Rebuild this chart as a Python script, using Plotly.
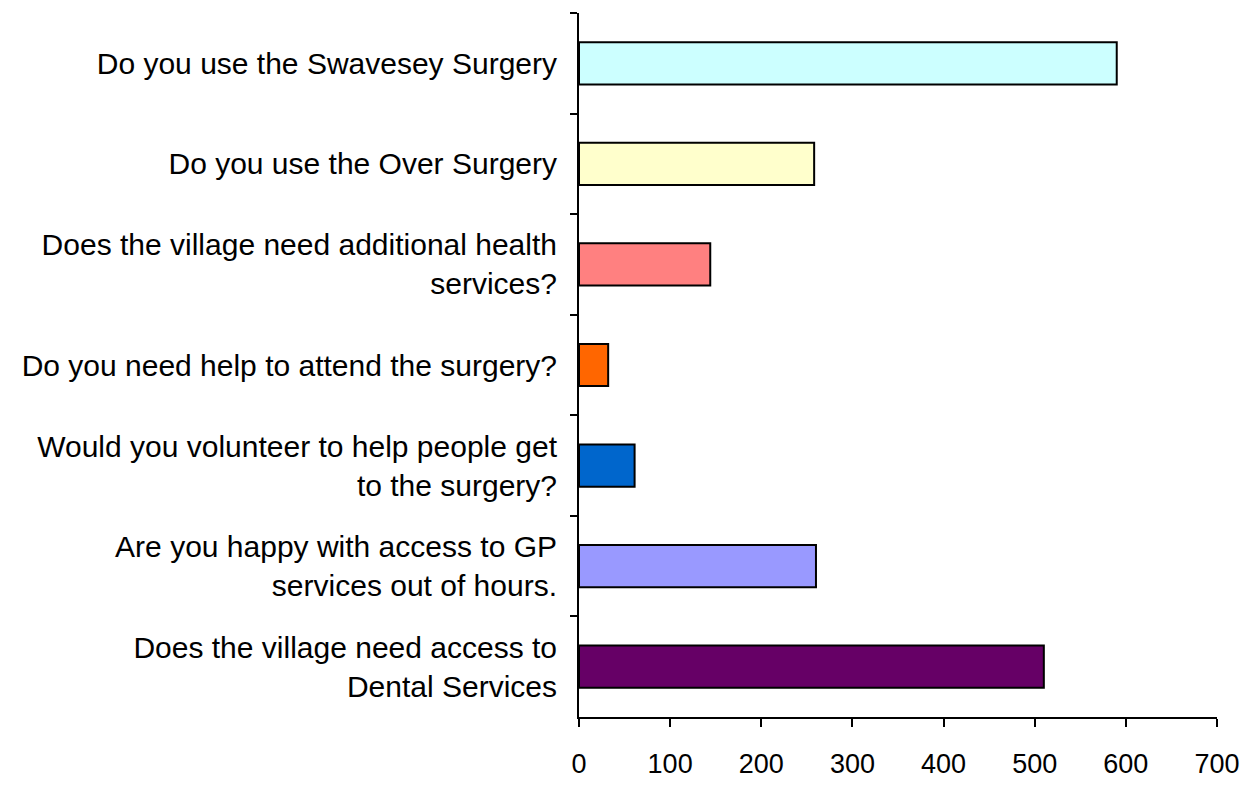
import plotly.graph_objects as go

# Survey questions, listed top to bottom as they appear on the chart
questions = [
    "Do you use the Swavesey Surgery",
    "Do you use the Over Surgery",
    "Does the village need additional health<br>services?",
    "Do you need help to attend the surgery?",
    "Would you volunteer to help people get<br>to the surgery?",
    "Are you happy with access to GP<br>services out of hours.",
    "Does the village need access to<br>Dental Services",
]
responses = [590, 258, 144, 32, 61, 260, 510]
bar_colors = ["#CCFFFF", "#FFFFCC", "#FF8080", "#FF6600", "#0066CC", "#9999FF", "#660066"]
x_ticks = [0, 100, 200, 300, 400, 500, 600, 700]

fig = go.Figure(
    go.Bar(
        x=responses,
        y=questions,
        orientation="h",
        marker=dict(color=bar_colors, line=dict(color="black", width=2)),
        width=0.42,
        hoverinfo="x+y",
    )
)

fig.update_layout(
    width=1259,
    height=785,
    margin=dict(l=579, r=42, t=13, b=68),
    paper_bgcolor="white",
    plot_bgcolor="white",
    showlegend=False,
    font=dict(family="Liberation Sans, Arial, sans-serif", color="black"),
)

fig.update_xaxes(
    range=[0, 700],
    tickvals=x_ticks,
    ticktext=[str(v) for v in x_ticks],
    showgrid=False,
    zeroline=False,
    showline=True,
    linecolor="black",
    linewidth=2,
    ticks="outside",
    ticklen=8,
    tickwidth=2,
    tickcolor="black",
    tickfont=dict(size=27),
    ticklabelstandoff=14,
    automargin=False,
)

fig.update_yaxes(
    categoryorder="array",
    categoryarray=questions,
    autorange="reversed",
    showgrid=False,
    zeroline=False,
    showline=True,
    linecolor="black",
    linewidth=2,
    ticks="outside",
    tickson="boundaries",
    ticklen=7,
    tickwidth=2,
    tickcolor="black",
    tickfont=dict(size=30),
    ticklabelstandoff=14,
    automargin=False,
)

fig.write_html("out.html")
